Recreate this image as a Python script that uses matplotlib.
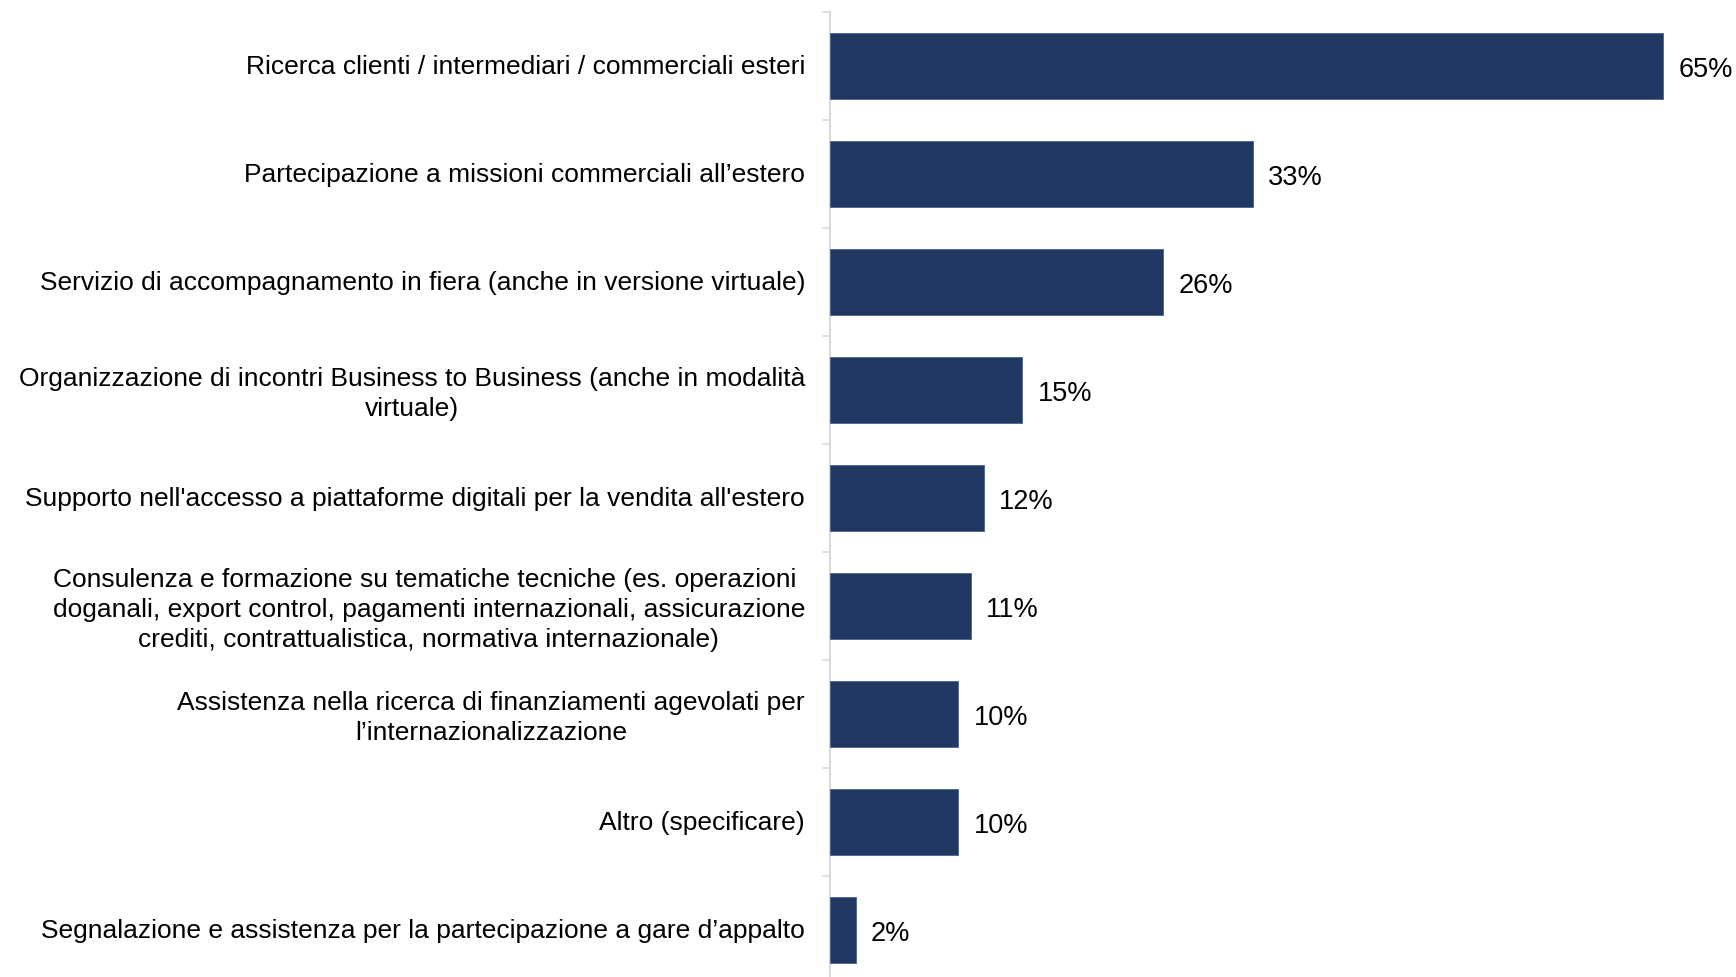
import matplotlib
matplotlib.use("Agg")
import matplotlib.pyplot as plt
from matplotlib.ticker import FixedLocator
from matplotlib.transforms import ScaledTranslation
import numpy as np

categories = [
    "Ricerca clienti / intermediari / commerciali esteri",
    "Partecipazione a missioni commerciali all\u2019estero",
    "Servizio di accompagnamento in fiera (anche in versione virtuale)",
    "Organizzazione di incontri Business to Business (anche in modalit\u00e0\nvirtuale)",
    "Supporto nell'accesso a piattaforme digitali per la vendita all'estero",
    "Consulenza e formazione su tematiche tecniche (es. operazioni \ndoganali, export control, pagamenti internazionali, assicurazione\ncrediti, contrattualistica, normativa internazionale)",
    "Assistenza nella ricerca di finanziamenti agevolati per\nl\u2019internazionalizzazione",
    "Altro (specificare)",
    "Segnalazione e assistenza per la partecipazione a gare d\u2019appalto",
]
values = [65, 33, 26, 15, 12, 11, 10, 10, 2]
value_labels = ["65%", "33%", "26%", "15%", "12%", "11%", "10%", "10%", "2%"]

plt.rcParams['font.family'] = ['Liberation Sans', 'DejaVu Sans']

W, H = 1736, 978
fig = plt.figure(figsize=(W / 100, H / 100), dpi=100)
left = 830 / W
top_px, bot_px = 13, 985
ax = fig.add_axes([left, 1 - bot_px / H, 1 - left, (bot_px - top_px) / H])

y = np.arange(len(categories))
ax.barh(y, values, height=0.62, color="#213862", edgecolor="#4a6189", linewidth=0.6, zorder=3)

ax.set_ylim(len(categories) - 0.5, -0.5)
xmax = 65 * (W - 830) / (1663 - 830)
ax.set_xlim(0, xmax)

for yi, v, lab in zip(y, values, value_labels):
    ax.annotate(lab, (v, yi), xytext=(11, 0), textcoords="offset points",
                va="center_baseline", ha="left", fontsize=19.5, color="black")

ax.set_yticks(y)
ax.set_yticklabels(categories, fontsize=19, multialignment="center", linespacing=1.3)
ax.tick_params(axis="y", which="major", length=0, pad=18)
shift = ScaledTranslation(0, 2.5 / 100, fig.dpi_scale_trans)
for t in ax.get_yticklabels():
    t.set_transform(t.get_transform() + shift)
ax.yaxis.set_minor_locator(FixedLocator(np.arange(-0.5, len(categories), 1.0)))
ax.tick_params(axis="y", which="minor", length=6, width=1.2, color="#d9d9d9", direction="out")
ax.set_xticks([])

for s in ["top", "right", "bottom"]:
    ax.spines[s].set_visible(False)
ax.spines["left"].set_color("#d9d9d9")
ax.spines["left"].set_linewidth(1.5)

fig.savefig("out.png", dpi=100)
